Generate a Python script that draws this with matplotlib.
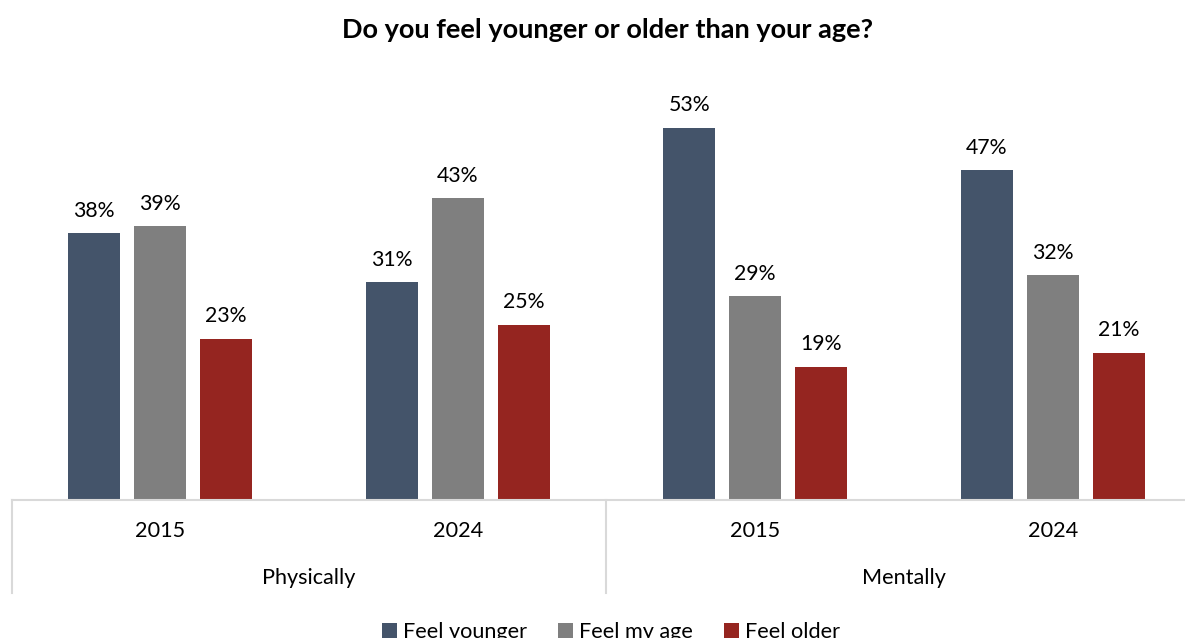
import numpy as np
import matplotlib.pyplot as plt

# Survey answers, % of respondents
years = ["2015", "2024", "2015", "2024"]
groups = ["Physically", "Mentally"]
series = ["Feel younger", "Feel my age", "Feel older"]
feel_younger = [38, 31, 53, 47]
feel_my_age = [39, 43, 29, 32]
feel_older = [23, 25, 19, 21]

colors = ["#44546A", "#7F7F7F", "#952520"]
FONT = "Lato"

plt.rcParams["font.family"] = [FONT, "DejaVu Sans"]

W, H = 1185, 638
fig = plt.figure(figsize=(W / 100, H / 100), dpi=100)

# axes in pixel terms: baseline at y=500, 4 categories of ~297.5 px starting at x=11.5
px_per_unit = 7.02
ymax = 60
left_px, width_px = 11.5, 297.5 * 4
base_px = 500
ax = fig.add_axes([left_px / W, (H - base_px) / H,
                   width_px / W, ymax * px_per_unit / H])

x = np.arange(len(years)) + 0.5
bar_w = 52 / 297.5
step = 66 / 297.5
for i, (name, vals) in enumerate(zip(series, [feel_younger, feel_my_age, feel_older])):
    xs = x + (i - 1) * step
    ax.bar(xs, vals, width=bar_w, color=colors[i], label=name, zorder=2)
    for xi, v in zip(xs, vals):
        ax.annotate(f"{v}%", (xi, v), xytext=(0, 9), textcoords="offset points",
                    ha="center", va="bottom", fontsize=15.3, color="#000000")

ax.set_xlim(0, 4)
ax.set_ylim(0, ymax)
ax.axis("off")

# category axis: baseline, separators and two-level labels
line_col = "#D9D9D9"
ax.plot([0, 4], [0, 0], color=line_col, lw=1.5, clip_on=False, zorder=3)
sep_len = 93 / px_per_unit
for xs in [0, 2]:
    ax.plot([xs, xs], [0, -sep_len], color=line_col, lw=1.5, clip_on=False)

for xi, yr in zip(x, years):
    ax.text(xi, -31 / px_per_unit, yr, ha="center", va="center", fontsize=15.6,
            clip_on=False)
for gi, g in enumerate(groups):
    ax.text(gi * 2 + 1, -78 / px_per_unit, g, ha="center", va="center", fontsize=15.6,
            clip_on=False)

fig.text(607 / W, 1 - 30 / H, "Do you feel younger or older than your age?",
         ha="center", va="center", fontsize=19.5, fontweight="bold")

fig.legend(loc="center", bbox_to_anchor=(611 / W, 1 - 632 / H), ncol=3,
           frameon=False, fontsize=15.6, handlelength=0.7, handleheight=0.7,
           handletextpad=0.3, columnspacing=1.4)

fig.savefig("out.png", dpi=100)
